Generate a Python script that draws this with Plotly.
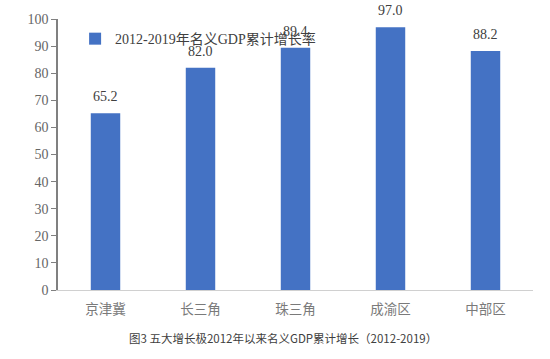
import plotly.graph_objects as go

categories = ["京津冀", "长三角", "珠三角", "成渝区", "中部区"]
values = [65.2, 82.0, 89.4, 97.0, 88.2]
value_labels = ["65.2", "82.0", "89.4", "97.0", "88.2"]
series_name = "2012-2019年名义GDP累计增长率"
caption = "图3 五大增长极2012年以来名义GDP累计增长（2012-2019）"
y_ticks = [0, 10, 20, 30, 40, 50, 60, 70, 80, 90, 100]

SERIF = "Liberation Serif"
CJK = "Noto Sans CJK SC"

fig = go.Figure()
fig.add_trace(go.Bar(
    x=categories, y=values, name=series_name,
    marker=dict(color="#4472C4", line=dict(width=0)),
))

annotations = []
for c, v, t in zip(categories, values, value_labels):
    annotations.append(dict(x=c, y=v, xref="x", yref="y", text=t, showarrow=False,
                            yanchor="bottom", yshift=7,
                            font=dict(family=SERIF, size=14, color="#404040")))

L, R, T, B = 58, 17, 14, 69
plot_w = 550 - L - R
plot_h = 359 - T - B
annotations.append(dict(text=caption, xref="paper", yref="paper",
                        x=(283 - L) / plot_w, y=-(339 - (359 - B)) / plot_h,
                        xanchor="center", yanchor="middle", showarrow=False,
                        font=dict(family=CJK, size=11.5, color="#404040")))

fig.update_layout(
    width=550, height=359,
    margin=dict(l=L, r=R, t=T, b=B),
    paper_bgcolor="white", plot_bgcolor="white",
    bargap=0.69,
    showlegend=True,
    legend=dict(x=0.036, y=0.985, xanchor="left", yanchor="top",
                bgcolor="rgba(0,0,0,0)",
                font=dict(family=SERIF + ", " + CJK, size=14, color="#404040")),
    xaxis=dict(showline=True, linecolor="#d0d0d0", linewidth=1, ticks="",
               tickfont=dict(family=CJK, size=13.5, color="#7a7a7a"),
               ticklabelstandoff=7, showgrid=False),
    yaxis=dict(range=[0, 100], tickvals=y_ticks, showline=True, linecolor="#808080",
               linewidth=1.5, ticks="outside", ticklen=5, tickcolor="#808080",
               tickfont=dict(family=SERIF, size=14, color="#666666"),
               showgrid=False, zeroline=False),
    annotations=annotations,
)

fig.write_html("out.html")
